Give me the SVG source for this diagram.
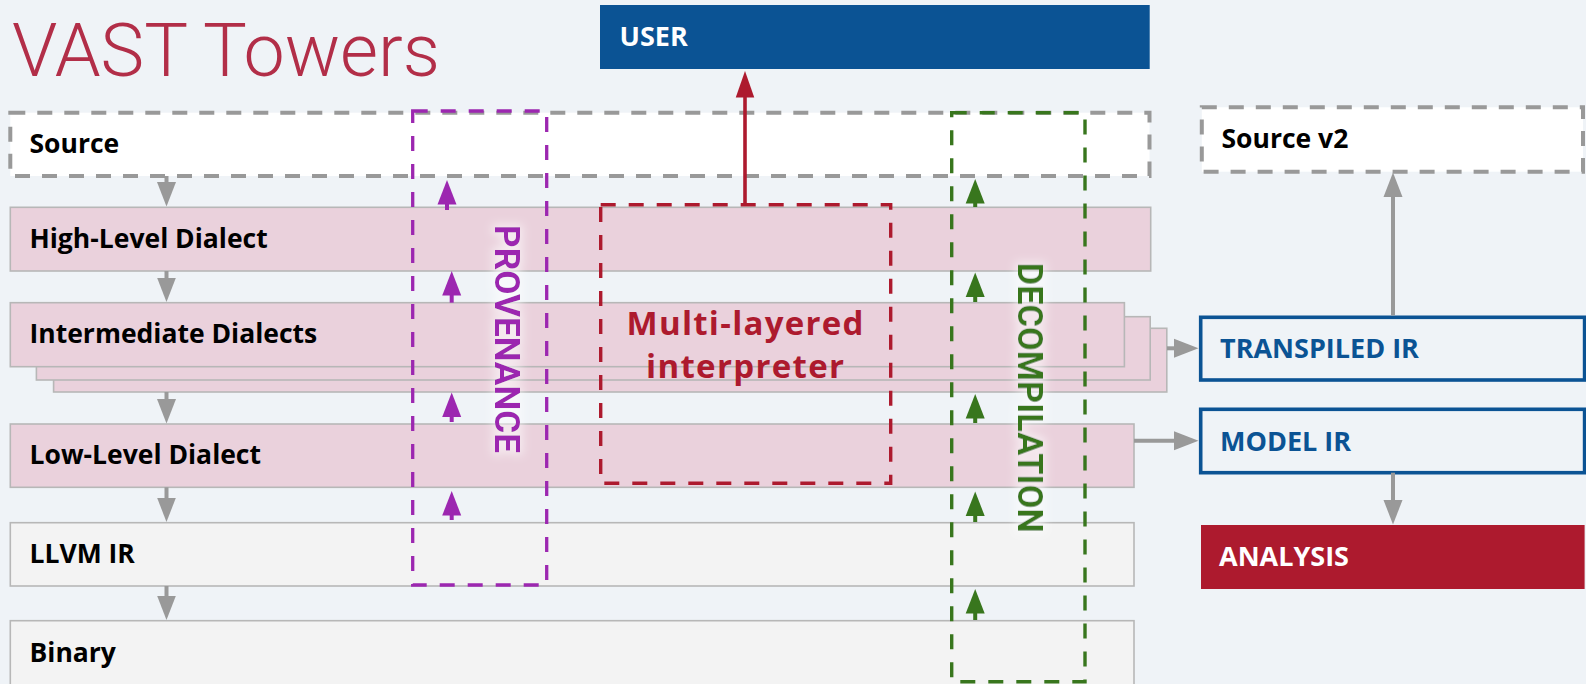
<svg xmlns="http://www.w3.org/2000/svg" width="1586" height="684" viewBox="0 0 1586 684">
  <style>
    .lbl { font-family: "Open Sans", "Liberation Sans", sans-serif; font-weight: 700; font-size: 26.5px; fill: #000; }
    .side { font-family: "Open Sans", "Liberation Sans", sans-serif; font-weight: 700; font-size: 27px; }
    .row { stroke: #b7b7b7; stroke-width: 1.6; }
    .pink { fill: #ead1dc; }
    .plain { fill: #f3f3f3; }
    .src { fill: #ffffff; stroke: #999999; stroke-width: 4; stroke-dasharray: 15 12; }
    .ir { fill: #eff3f7; stroke: #0b5394; stroke-width: 3.6; }
    .ga { stroke: #999999; stroke-width: 4; fill: none; marker-end: url(#hGray); }
    .pa { stroke: #9c27b0; stroke-width: 4; fill: none; marker-end: url(#hPurple); }
    .na { stroke: #38761d; stroke-width: 4; fill: none; marker-end: url(#hGreen); }
    .ra { stroke: #ad1a2e; stroke-width: 3.6; fill: none; marker-end: url(#hRed); }
    .vert { font-family: Roboto, "Liberation Sans", sans-serif; font-weight: 700; font-size: 35px; }
    .interp { font-family: "Open Sans", "Liberation Sans", sans-serif; font-weight: 700; font-size: 33px; fill: #ad1a2e; }
  </style>
  <defs>
    <marker id="hGray" markerUnits="userSpaceOnUse" markerWidth="26" markerHeight="20" refX="1" refY="10" orient="auto">
      <path d="M0,0.5 L24.5,10 L0,19.5 Z" fill="#999999"/>
    </marker>
    <marker id="hPurple" markerUnits="userSpaceOnUse" markerWidth="26" markerHeight="20" refX="1" refY="10" orient="auto">
      <path d="M0,0.5 L24.5,10 L0,19.5 Z" fill="#9c27b0"/>
    </marker>
    <marker id="hGreen" markerUnits="userSpaceOnUse" markerWidth="26" markerHeight="20" refX="1" refY="10" orient="auto">
      <path d="M0,0.5 L24.5,10 L0,19.5 Z" fill="#38761d"/>
    </marker>
    <marker id="hRed" markerUnits="userSpaceOnUse" markerWidth="28" markerHeight="20" refX="1" refY="10" orient="auto">
      <path d="M0,0.75 L26.5,10 L0,19.25 Z" fill="#ad1a2e"/>
    </marker>
    <filter id="halo" x="-20%" y="-20%" width="140%" height="140%">
      <feMorphology in="SourceAlpha" operator="dilate" radius="3" result="fat"/>
      <feGaussianBlur in="fat" stdDeviation="5" result="soft"/>
      <feFlood flood-color="#ffffff" flood-opacity="0.55"/>
      <feComposite in2="soft" operator="in" result="glow"/>
      <feMerge>
        <feMergeNode in="glow"/>
        <feMergeNode in="SourceGraphic"/>
      </feMerge>
    </filter>
  </defs>

  <rect width="1586" height="684" fill="#eff3f7"/>

  <!-- title -->
  <text x="12" y="75.5" font-family="Roboto, 'Liberation Sans', sans-serif" font-weight="300" font-size="73.5" fill="#b22e48">VAST Towers</text>

  <!-- tower layers -->
  <g id="source">
    <rect class="src" x="10.3" y="112.7" width="1139.2" height="63.3"/>
    <text class="lbl" x="29.5" y="153">Source</text>
  </g>
  <g id="high-level">
    <rect class="row pink" x="10.3" y="207.3" width="1140.4" height="63.7"/>
    <text class="lbl" x="29.5" y="248.3">High-Level Dialect</text>
  </g>
  <g id="intermediate">
    <rect class="row pink" x="53.6" y="328.3" width="1113.2" height="63.7"/>
    <rect class="row pink" x="36.4" y="316.7" width="1113.8" height="63.3"/>
    <rect class="row pink" x="10.3" y="302.7" width="1114.1" height="64"/>
    <text class="lbl" x="29.5" y="343.3">Intermediate Dialects</text>
  </g>
  <g id="low-level">
    <rect class="row pink" x="10.3" y="424" width="1123.7" height="63.3"/>
    <text class="lbl" x="29.5" y="464.3">Low-Level Dialect</text>
  </g>
  <g id="llvm-ir">
    <rect class="row plain" x="10.3" y="522.7" width="1123.7" height="63.3"/>
    <text class="lbl" x="29.5" y="563.3">LLVM IR</text>
  </g>
  <g id="binary">
    <rect class="row plain" x="10.3" y="620.7" width="1123.7" height="70"/>
    <text class="lbl" x="29.5" y="661.7">Binary</text>
  </g>

  <!-- right-hand outputs -->
  <g id="user">
    <rect x="600" y="5" width="549.7" height="64" fill="#0b5394"/>
    <text class="side" x="619.6" y="45.7" fill="#ffffff">USER</text>
  </g>
  <g id="source-v2">
    <rect class="src" x="1201.8" y="107.3" width="381.2" height="64.4"/>
    <text class="lbl" x="1221.5" y="148.3">Source v2</text>
  </g>
  <g id="transpiled-ir">
    <rect class="ir" x="1200.7" y="317.3" width="383.9" height="62.7"/>
    <text class="side" x="1220" y="357.7" fill="#0b5394">TRANSPILED IR</text>
  </g>
  <g id="model-ir">
    <rect class="ir" x="1200.7" y="409.3" width="383.9" height="63.4"/>
    <text class="side" x="1220" y="450.7" fill="#0b5394">MODEL IR</text>
  </g>
  <g id="analysis">
    <rect x="1201" y="525" width="383.6" height="64" fill="#ad1a2e"/>
    <text class="side" x="1219" y="566" fill="#ffffff">ANALYSIS</text>
  </g>

  <!-- interpreter region -->
  <g id="interpreter">
    <rect x="600.7" y="204.7" width="290" height="278.6" fill="none" stroke="#ad1a2e" stroke-width="3.4" stroke-dasharray="15 13"/>
    <text class="interp" x="745" y="335" text-anchor="middle" textLength="237" lengthAdjust="spacing">Multi-layered</text>
    <text class="interp" x="745" y="378" text-anchor="middle" textLength="198" lengthAdjust="spacing">interpreter</text>
  </g>

  <!-- provenance band -->
  <g id="provenance">
    <rect x="412.7" y="111" width="134" height="474" fill="none" stroke="#9c27b0" stroke-width="3.3" stroke-dasharray="15 13"/>
    <text class="vert" transform="translate(495,225) rotate(90)" fill="#9c27b0" filter="url(#halo)" textLength="228" lengthAdjust="spacingAndGlyphs">PROVENANCE</text>
  </g>

  <!-- decompilation band -->
  <g id="decompilation">
    <rect x="951.7" y="112.7" width="133.3" height="569" fill="none" stroke="#38761d" stroke-width="3.4" stroke-dasharray="15 13"/>
    <text class="vert" transform="translate(1018,262.7) rotate(90)" fill="#38761d" filter="url(#halo)" textLength="270" lengthAdjust="spacingAndGlyphs">DECOMPILATION</text>
  </g>

  <!-- connectors -->
  <g id="connectors">
    <!-- lowering chain -->
    <line class="ga" x1="166.5" y1="176" x2="166.5" y2="183"/>
    <line class="ga" x1="166.5" y1="271" x2="166.5" y2="278.5"/>
    <line class="ga" x1="166.5" y1="392" x2="166.5" y2="400"/>
    <line class="ga" x1="166.5" y1="487.3" x2="166.5" y2="498.5"/>
    <line class="ga" x1="166.5" y1="586" x2="166.5" y2="596.5"/>

    <!-- provenance links -->
    <line class="pa" x1="447" y1="210" x2="447" y2="203.5"/>
    <line class="pa" x1="451.7" y1="302.7" x2="451.7" y2="294.5"/>
    <line class="pa" x1="451.7" y1="422" x2="451.7" y2="416"/>
    <line class="pa" x1="451.7" y1="520" x2="451.7" y2="514.5"/>

    <!-- decompilation links -->
    <line class="na" x1="975.2" y1="207" x2="975.2" y2="202.5"/>
    <line class="na" x1="975.2" y1="302" x2="975.2" y2="296"/>
    <line class="na" x1="975.2" y1="423" x2="975.2" y2="417.5"/>
    <line class="na" x1="975.2" y1="522" x2="975.2" y2="515"/>
    <line class="na" x1="975.2" y1="620" x2="975.2" y2="612.5"/>

    <!-- interpreter to user -->
    <line class="ra" x1="745" y1="204.7" x2="745" y2="96.5"/>

    <!-- outputs -->
    <line class="ga" x1="1167" y1="348.3" x2="1175" y2="348.3"/>
    <line class="ga" x1="1134" y1="440.7" x2="1175" y2="440.7"/>
    <line class="ga" x1="1393" y1="315.5" x2="1393" y2="196"/>
    <line class="ga" x1="1393" y1="472.7" x2="1393" y2="501"/>
  </g>
</svg>
